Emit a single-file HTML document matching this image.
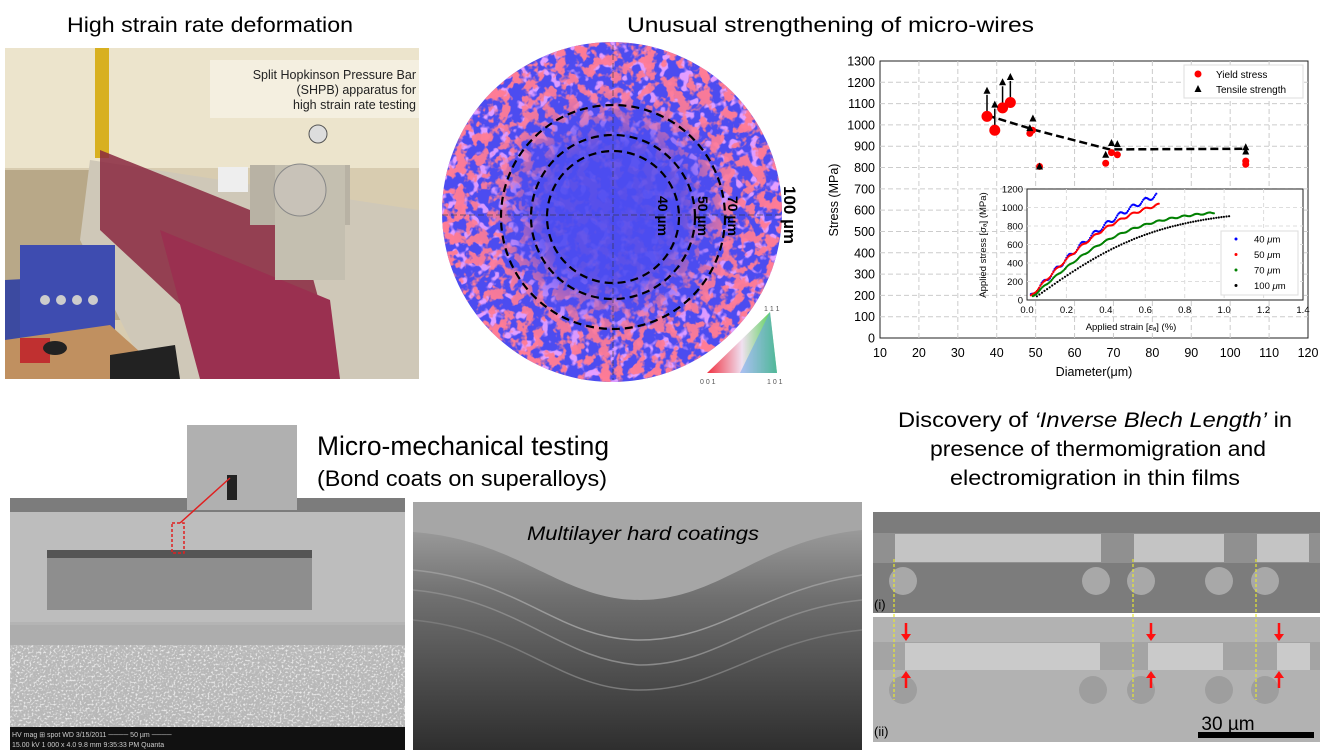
<!DOCTYPE html>
<html><head><meta charset="utf-8"><style>
html,body{margin:0;padding:0;background:#fff;}
svg{display:block;font-family:"Liberation Sans",sans-serif;}
</style></head><body>
<svg id="s" width="1320" height="755" viewBox="0 0 1320 755" xmlns="http://www.w3.org/2000/svg">
<defs>
<filter id="ebsd" x="0" y="0" width="1" height="1">
<feTurbulence type="fractalNoise" baseFrequency="0.09" numOctaves="3" seed="4" result="n"/>
<feColorMatrix in="n" type="matrix" values="0 0 0 0 1  0 0 0 0 0.2  0 0 0 0 0.3  9 0 0 0 -4.3" result="red"/>
<feComposite in="red" in2="SourceGraphic" operator="in"/>
</filter>
<filter id="ebsd2" x="0" y="0" width="1" height="1">
<feTurbulence type="fractalNoise" baseFrequency="0.1" numOctaves="2" seed="9" result="n"/>
<feColorMatrix in="n" type="matrix" values="0 0 0 0 0.8  0 0 0 0 0.35  0 0 0 0 1  9 0 0 0 -4.9" result="red"/>
<feComposite in="red" in2="SourceGraphic" operator="in"/>
</filter>
<filter id="grain" x="0" y="0" width="1" height="1">
<feTurbulence type="fractalNoise" baseFrequency="0.5" numOctaves="2" seed="2" result="n"/>
<feColorMatrix in="n" type="matrix" values="0 0 0 0 1  0 0 0 0 1  0 0 0 0 1  5 0 0 0 -2.6" result="w"/>
<feComposite in="w" in2="SourceGraphic" operator="in"/>
</filter>
<radialGradient id="rmask" cx="0.5" cy="0.5" r="0.5">
<stop offset="0" stop-color="#fff" stop-opacity="0.05"/>
<stop offset="0.4" stop-color="#fff" stop-opacity="0.1"/>
<stop offset="0.7" stop-color="#fff" stop-opacity="0.9"/>
<stop offset="1" stop-color="#fff" stop-opacity="1"/>
</radialGradient>
<linearGradient id="tri" x1="0" y1="0" x2="1" y2="0">
<stop offset="0" stop-color="#f03040"/><stop offset="0.5" stop-color="#f0e0f0"/><stop offset="1" stop-color="#40d040"/>
</linearGradient>
<linearGradient id="coat" x1="0" y1="0" x2="0" y2="1">
<stop offset="0" stop-color="#9a9a9a"/><stop offset="0.3" stop-color="#707070"/><stop offset="0.7" stop-color="#4a4a4a"/><stop offset="1" stop-color="#2e2e2e"/>
</linearGradient>
</defs>

<text x="67" y="32" font-size="21" textLength="286" lengthAdjust="spacingAndGlyphs">High strain rate deformation</text>
<text x="627" y="32" font-size="21" textLength="407" lengthAdjust="spacingAndGlyphs">Unusual strengthening of micro-wires</text>

<g>
<rect x="5" y="48" width="414" height="331" fill="#d8ccb0"/>
<rect x="5" y="48" width="414" height="120" fill="#ece4cc"/>
<rect x="95" y="48" width="14" height="110" fill="#d8b020"/>
<rect x="5" y="170" width="150" height="150" fill="#b8a888"/>
<polygon points="90,160 419,210 419,379 150,379 80,240" fill="#cfc8b8"/>
<rect x="210" y="60" width="209" height="58" fill="#f4efe0"/>
<text x="416" y="79" font-size="12.5" text-anchor="end" fill="#222">Split Hopkinson Pressure Bar</text>
<text x="416" y="94" font-size="12.5" text-anchor="end" fill="#222">(SHPB) apparatus for</text>
<text x="416" y="109" font-size="12.5" text-anchor="end" fill="#222">high strain rate testing</text>
<polygon points="100,150 300,230 340,379 260,379 100,230" fill="#8a2840" opacity="0.85"/>
<polygon points="160,230 330,300 340,379 200,379" fill="#9a3050"/>
<rect x="250" y="165" width="100" height="60" fill="#b8b2a4"/>
<rect x="275" y="165" width="70" height="115" fill="#c4bfb0"/>
<circle cx="300" cy="190" r="26" fill="#c8c2b8" stroke="#888"/>
<circle cx="318" cy="134" r="9" fill="#ddd" stroke="#555"/>
<rect x="218" y="167" width="30" height="25" fill="#eee"/>
<polygon points="5,280 100,275 110,370 5,379" fill="#3c4aa0"/>
<rect x="20" y="245" width="95" height="100" fill="#3e4cb0"/>
<circle cx="45" cy="300" r="5" fill="#ccc"/><circle cx="61" cy="300" r="5" fill="#ccc"/><circle cx="77" cy="300" r="5" fill="#ccc"/><circle cx="93" cy="300" r="5" fill="#ccc"/>
<polygon points="5,340 110,325 170,379 5,379" fill="#c09060"/>
<rect x="20" y="338" width="30" height="25" fill="#c03030"/>
<ellipse cx="55" cy="348" rx="12" ry="7" fill="#222"/>
<polygon points="110,355 175,345 180,379 110,379" fill="#222"/>
</g>

<g>
<circle cx="612" cy="212" r="170" fill="#4c4cf0"/>
<circle cx="612" cy="212" r="170" fill="url(#rmask)" filter="url(#ebsd2)"/>
<circle cx="612" cy="212" r="170" fill="url(#rmask)" filter="url(#ebsd)"/>
<line x1="442" y1="215" x2="782" y2="215" stroke="#333" stroke-width="1" stroke-dasharray="6,3" opacity="0.6"/>
<line x1="613" y1="45" x2="613" y2="380" stroke="#333" stroke-width="1" stroke-dasharray="6,3" opacity="0.6"/>
<g fill="none" stroke="#000" stroke-width="2.2" stroke-dasharray="8,5">
<circle cx="613" cy="217" r="112"/><circle cx="613" cy="217" r="82"/><circle cx="613" cy="217" r="66"/>
</g>
<g font-weight="bold" font-size="14" fill="#000">
<text transform="translate(658,196) rotate(90)">40 µm</text>
<text transform="translate(698,196) rotate(90)">50 µm</text>
<text transform="translate(728,196) rotate(90)">70 µm</text>
<text transform="translate(784,186) rotate(90)" font-size="17">100 µm</text>
</g>
<polygon points="707,373 777,373 770,312" fill="url(#tri)"/>
<polygon points="740,373 777,373 770,312" fill="#60a0f0" opacity="0.5"/>
<text x="700" y="384" font-size="7" fill="#555">0 0 1</text>
<text x="767" y="384" font-size="7" fill="#555">1 0 1</text>
<text x="764" y="311" font-size="7" fill="#555">1 1 1</text>
</g>

<g id="chart"></g>

<g>
<rect x="10" y="498" width="395" height="252" fill="#b4b4b4"/>
<rect x="10" y="498" width="395" height="14" fill="#7c7c7c"/>
<rect x="10" y="512" width="395" height="110" fill="#bdbdbd"/>
<rect x="10" y="625" width="395" height="20" fill="#adadad"/>
<rect x="10" y="645" width="395" height="82" fill="#b8b8b8"/>
<rect x="10" y="645" width="395" height="82" fill="#fff" filter="url(#grain)" opacity="0.7"/>
<rect x="47" y="550" width="265" height="60" fill="#8e8e8e"/>
<rect x="47" y="550" width="265" height="8" fill="#555"/>
<rect x="187" y="425" width="110" height="85" fill="#b0b0b0"/>
<rect x="227" y="475" width="10" height="25" fill="#222"/>
<rect x="172" y="523" width="12" height="30" fill="none" stroke="#e02020" stroke-width="1.5" stroke-dasharray="3,2"/>
<line x1="180" y1="523" x2="230" y2="478" stroke="#e02020" stroke-width="1.5"/>
<rect x="10" y="727" width="395" height="23" fill="#111"/>
<text x="12" y="737" font-size="7" fill="#ccc">HV    mag ⊞  spot   WD    3/15/2011   ──── 50 µm ────</text>
<text x="12" y="747" font-size="7" fill="#ccc">15.00 kV 1 000 x  4.0  9.8 mm 9:35:33 PM         Quanta</text>
</g>

<g>
<rect x="413" y="502" width="449" height="248" fill="#a6a6a6"/>
<path d="M413,532 C520,540 560,600 640,600 C720,600 760,540 862,530 L862,750 L413,750 Z" fill="url(#coat)"/>
<path d="M413,570 C520,580 560,640 640,640 C720,640 760,590 862,575" fill="none" stroke="#9a9a9a" stroke-width="1.5"/>
<path d="M413,590 C520,600 560,660 640,665 C720,665 760,610 862,600" fill="none" stroke="#8a8a8a" stroke-width="1.5"/>
<path d="M413,620 C520,630 560,690 640,690 C720,690 760,640 862,630" fill="none" stroke="#7a7a7a" stroke-width="1.5"/>
<text x="527" y="540" font-size="19" font-style="italic" textLength="232" lengthAdjust="spacingAndGlyphs">Multilayer hard coatings</text>
</g>
<text x="317" y="455" font-size="27" textLength="292" lengthAdjust="spacingAndGlyphs">Micro-mechanical testing</text>
<text x="317" y="486" font-size="22" textLength="290" lengthAdjust="spacingAndGlyphs">(Bond coats on superalloys)</text>

<text x="898" y="427" font-size="21" textLength="394" lengthAdjust="spacingAndGlyphs">Discovery of <tspan font-style="italic">‘Inverse Blech Length’</tspan> in</text>
<text x="930" y="456" font-size="21" textLength="336" lengthAdjust="spacingAndGlyphs">presence of thermomigration and</text>
<text x="950" y="485" font-size="21" textLength="290" lengthAdjust="spacingAndGlyphs">electromigration in thin films</text>

<g>
<rect x="873" y="512" width="447" height="101" fill="#7c7c7c"/>
<rect x="873" y="533" width="447" height="30" fill="#909090"/>
<rect x="895" y="534" width="206" height="28" fill="#c4c4c4"/>
<rect x="1134" y="534" width="90" height="28" fill="#c4c4c4"/>
<rect x="1257" y="534" width="52" height="28" fill="#c4c4c4"/>
<g fill="#a8a8a8"><circle cx="903" cy="581" r="14"/><circle cx="1096" cy="581" r="14"/><circle cx="1141" cy="581" r="14"/><circle cx="1219" cy="581" r="14"/><circle cx="1265" cy="581" r="14"/></g>
<text x="874" y="609" font-size="13">(i)</text>
<rect x="873" y="617" width="447" height="125" fill="#b2b2b2"/>
<rect x="873" y="642" width="447" height="28" fill="#a4a4a4"/>
<rect x="905" y="643" width="195" height="27" fill="#cacaca"/>
<rect x="1148" y="643" width="75" height="27" fill="#cacaca"/>
<rect x="1277" y="643" width="33" height="27" fill="#cacaca"/>
<g fill="#9e9e9e"><circle cx="903" cy="690" r="14"/><circle cx="1093" cy="690" r="14"/><circle cx="1141" cy="690" r="14"/><circle cx="1219" cy="690" r="14"/><circle cx="1265" cy="690" r="14"/></g>
<g stroke="#e8e830" stroke-width="1.2" stroke-dasharray="3,2"><line x1="894" y1="559" x2="894" y2="700"/><line x1="1133" y1="559" x2="1133" y2="700"/><line x1="1256" y1="559" x2="1256" y2="700"/></g>
<g stroke="#ff1010" stroke-width="2.5" fill="#ff1010">
<line x1="906" y1="623" x2="906" y2="636"/><polygon points="901,634 911,634 906,641" stroke="none"/>
<line x1="906" y1="676" x2="906" y2="688"/><polygon points="901,678 911,678 906,671" stroke="none"/>
<line x1="1151" y1="623" x2="1151" y2="636"/><polygon points="1146,634 1156,634 1151,641" stroke="none"/>
<line x1="1151" y1="676" x2="1151" y2="688"/><polygon points="1146,678 1156,678 1151,671" stroke="none"/>
<line x1="1279" y1="623" x2="1279" y2="636"/><polygon points="1274,634 1284,634 1279,641" stroke="none"/>
<line x1="1279" y1="676" x2="1279" y2="688"/><polygon points="1274,678 1284,678 1279,671" stroke="none"/>
</g>
<text x="874" y="736" font-size="13">(ii)</text>
<text x="1228" y="730" font-size="19" text-anchor="middle">30 µm</text>
<rect x="1198" y="732" width="116" height="6" fill="#000"/>
</g>
</svg>
<script>
var g=document.getElementById('chart'),h='';
function X(d){return 880+(d-10)*3.891}function Y(s){return 338-s*0.2131}
h+='<rect x="880" y="61" width="428" height="277" fill="#fff" stroke="#222" stroke-width="1"/>';
for(var d=20;d<120;d+=10)h+='<line x1="'+X(d)+'" y1="61" x2="'+X(d)+'" y2="338" stroke="#ccc" stroke-dasharray="5,3"/>';
for(var s=100;s<1300;s+=100)h+='<line x1="880" y1="'+Y(s)+'" x2="1308" y2="'+Y(s)+'" stroke="#ccc" stroke-dasharray="5,3"/>';
for(var d=10;d<=120;d+=10)h+='<text x="'+X(d)+'" y="357" font-size="12.5" text-anchor="middle">'+d+'</text>';
for(var s=0;s<=1300;s+=100)h+='<text x="875" y="'+(Y(s)+4.5)+'" font-size="12.5" text-anchor="end">'+s+'</text>';
h+='<text x="1094" y="376" font-size="12.5" text-anchor="middle">Diameter(μm)</text>';
h+='<text transform="translate(838,200) rotate(-90)" font-size="12.5" text-anchor="middle">Stress (MPa)</text>';
h+='<polyline points="'+X(37.5)+','+Y(1045)+' '+X(50)+','+Y(975)+' '+X(69)+','+Y(885)+' '+X(104)+','+Y(888)+'" fill="none" stroke="#000" stroke-width="2.5" stroke-dasharray="8,4"/>';
var Ys=[[37.5,1040,1],[39.5,975,1],[41.5,1080,1],[43.5,1105,1],[48.5,960,0],[49.2,975,0],[51,805,0],[68,820,0],[69.5,870,0],[71,860,0],[104,830,0],[104,815,0]];
var Ts=[[37.5,1160],[39.5,1095],[41.5,1200],[43.5,1225],[49.3,1030],[48.5,985],[51,805],[68,860],[69.5,915],[71,910],[104,895],[104,875]];
for(var i=0;i<4;i++)h+='<line x1="'+X(Ys[i][0])+'" y1="'+Y(Ys[i][1])+'" x2="'+X(Ts[i][0])+'" y2="'+(Y(Ts[i][1])+4)+'" stroke="#000" stroke-width="1.5"/>';
Ys.forEach(function(p){h+='<circle cx="'+X(p[0])+'" cy="'+Y(p[1])+'" r="'+(p[2]?5.5:3.5)+'" fill="#f00"/>'});
Ts.forEach(function(p){var x=X(p[0]),y=Y(p[1]);h+='<polygon points="'+(x-3.5)+','+(y+3)+' '+(x+3.5)+','+(y+3)+' '+x+','+(y-4)+'" fill="#000"/>'});
h+='<rect x="1184" y="65" width="119" height="33" fill="#fff" stroke="#ddd"/>';
h+='<circle cx="1198" cy="74" r="3.5" fill="#f00"/><text x="1216" y="78" font-size="10">Yield stress</text>';
h+='<polygon points="1194.5,92 1201.5,92 1198,85" fill="#000"/><text x="1216" y="93" font-size="10">Tensile strength</text>';
function x2(e){return 1027+e/1.4*276}function y2(s){return 300-s/1200*111}
h+='<rect x="1027" y="189" width="276" height="111" fill="#fff" stroke="#222"/>';
for(var e=0.2;e<1.4;e+=0.2)h+='<line x1="'+x2(e)+'" y1="189" x2="'+x2(e)+'" y2="300" stroke="#ddd" stroke-dasharray="4,3"/>';
for(var s=200;s<1200;s+=200)h+='<line x1="1027" y1="'+y2(s)+'" x2="1303" y2="'+y2(s)+'" stroke="#ddd" stroke-dasharray="4,3"/>';
['0.0','0.2','0.4','0.6','0.8','1.0','1.2','1.4'].forEach(function(t,i){h+='<text x="'+x2(i*0.2)+'" y="313" font-size="9.5" text-anchor="middle">'+t+'</text>'});
for(var s=0;s<=1200;s+=200)h+='<text x="1023" y="'+(y2(s)+3.5)+'" font-size="9.5" text-anchor="end">'+s+'</text>';
h+='<text x="1131" y="330" font-size="9.5" text-anchor="middle">Applied strain [<tspan font-style="italic">ε</tspan>ₐ] (%)</text>';
h+='<text transform="translate(986,245) rotate(-90)" font-size="9.5" text-anchor="middle">Applied stress [<tspan font-style="italic">σ</tspan>ₐ] (MPa)</text>';
var series=[['#0000ff',0.02,0.66,1400,2300,25,0.006],['#ff0000',0.02,0.67,1150,2300,12,0.006],['#008000',0.03,0.95,950,1900,8,0.006],['#000',0.05,1.03,950,1500,0,0.013]];
series.forEach(function(c){for(var e=c[1];e<=c[2];e+=c[6]){var s=40+c[3]*Math.tanh((e-c[1])*c[4]/c[3]);s+=(Math.sin(e*97)*c[5]);h+='<circle cx="'+x2(e).toFixed(1)+'" cy="'+y2(s).toFixed(1)+'" r="1.1" fill="'+c[0]+'"/>'}});
h+='<rect x="1221" y="231" width="77" height="64" fill="#fff" stroke="#ddd"/>';
['40','50','70','100'].forEach(function(t,i){var y=239+i*15.5;h+='<circle cx="1236" cy="'+y+'" r="1.5" fill="'+series[i][0]+'"/><text x="1254" y="'+(y+3.5)+'" font-size="9.5">'+t+' <tspan font-style="italic">μ</tspan>m</text>'});
g.innerHTML=h;
</script>
</body></html>
